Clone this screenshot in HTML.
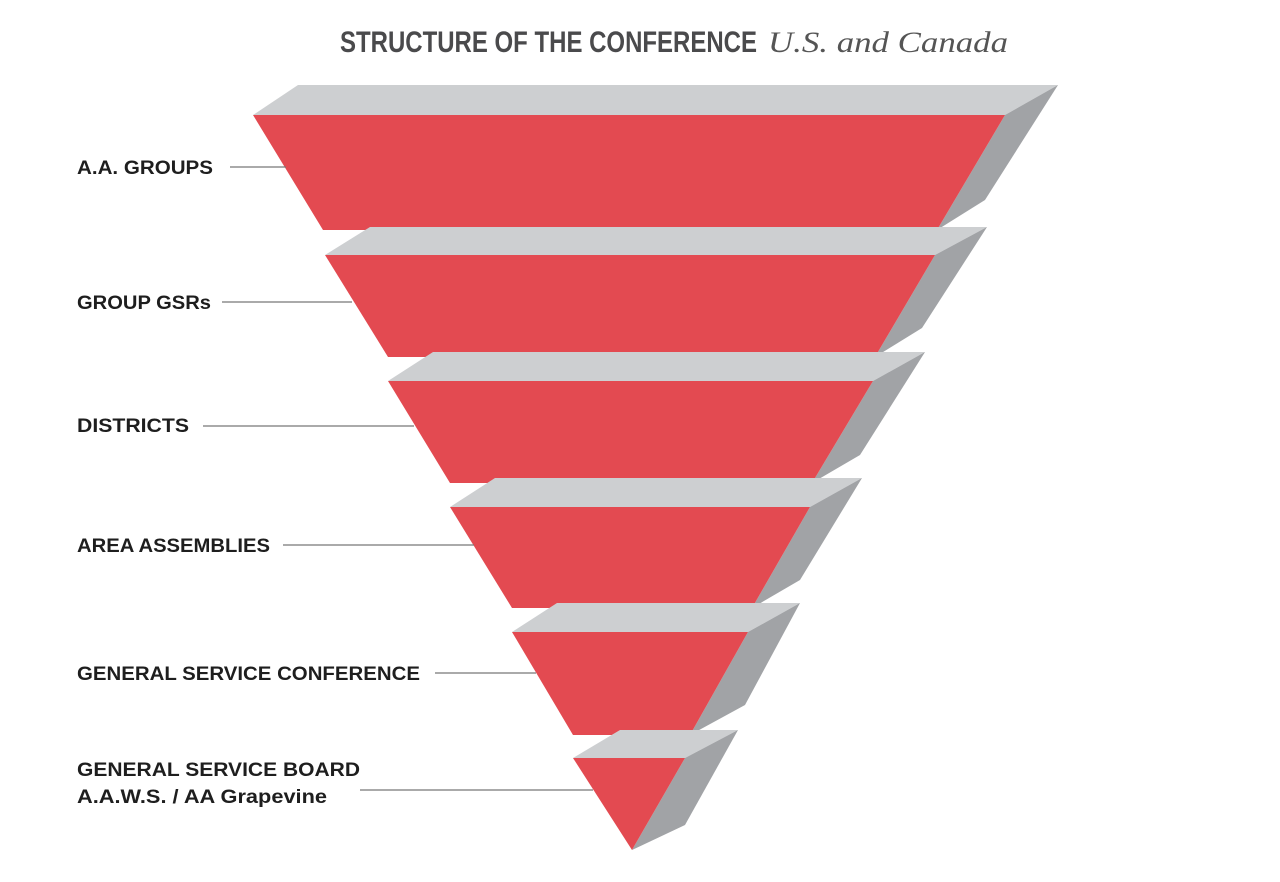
<!DOCTYPE html>
<html><head><meta charset="utf-8"><style>
html,body{margin:0;padding:0;background:#fff;}
svg{display:block;}
</style></head><body>
<svg width="1280" height="882" viewBox="0 0 1280 882" xmlns="http://www.w3.org/2000/svg">
<rect width="1280" height="882" fill="#fff"/>
<text x="340" y="52" font-family="Liberation Sans, sans-serif" font-weight="bold" font-size="30" fill="#4a4a4c" textLength="417" lengthAdjust="spacingAndGlyphs">STRUCTURE OF THE CONFERENCE</text>
<text x="768" y="52" font-family="Liberation Serif, serif" font-style="italic" font-size="30" fill="#555" textLength="240" lengthAdjust="spacingAndGlyphs">U.S. and Canada</text>

<g stroke="none">
<!-- tier 1 -->
<polygon points="253,115 298,85 1058,85 1005,115" fill="#cdcfd1"/>
<polygon points="1005,115 1058,85 985,200 937,230" fill="#a1a3a6"/>
<polygon points="253,115 1005,115 937,230 323,230" fill="#e34a51"/>
<!-- tier 2 -->
<polygon points="325,255 370,227 987,227 935,255" fill="#cdcfd1"/>
<polygon points="935,255 987,227 922,328 875,357" fill="#a1a3a6"/>
<polygon points="325,255 935,255 875,357 388,357" fill="#e34a51"/>
<!-- tier 3 -->
<polygon points="388,381 433,352 925,352 873,381" fill="#cdcfd1"/>
<polygon points="873,381 925,352 860,455 812,483" fill="#a1a3a6"/>
<polygon points="388,381 873,381 812,483 450,483" fill="#e34a51"/>
<!-- tier 4 -->
<polygon points="450,507 495,478 862,478 810,507" fill="#cdcfd1"/>
<polygon points="810,507 862,478 800,580 752,608" fill="#a1a3a6"/>
<polygon points="450,507 810,507 752,608 512,608" fill="#e34a51"/>
<!-- tier 5 -->
<polygon points="512,632 557,603 800,603 748,632" fill="#cdcfd1"/>
<polygon points="748,632 800,603 745,705 690,735" fill="#a1a3a6"/>
<polygon points="512,632 748,632 690,735 573,735" fill="#e34a51"/>
<!-- tier 6 -->
<polygon points="573,758 620,730 738,730 685,758" fill="#cdcfd1"/>
<polygon points="685,758 738,730 685,825 632,850" fill="#a1a3a6"/>
<polygon points="573,758 685,758 632,850" fill="#e34a51"/>
</g>

<g stroke="#777" stroke-width="1.3">
<line x1="230" y1="167" x2="286" y2="167"/>
<line x1="222" y1="302" x2="352" y2="302"/>
<line x1="203" y1="426" x2="414" y2="426"/>
<line x1="283" y1="545" x2="474" y2="545"/>
<line x1="435" y1="673" x2="536" y2="673"/>
<line x1="360" y1="790" x2="593" y2="790"/>
</g>

<g font-family="Liberation Sans, sans-serif" font-weight="bold" font-size="19.5" fill="#1e1e1e">
<text x="77" y="174" textLength="136" lengthAdjust="spacingAndGlyphs">A.A. GROUPS</text>
<text x="77" y="309" textLength="134" lengthAdjust="spacingAndGlyphs">GROUP GSRs</text>
<text x="77" y="432" textLength="112" lengthAdjust="spacingAndGlyphs">DISTRICTS</text>
<text x="77" y="552" textLength="193" lengthAdjust="spacingAndGlyphs">AREA ASSEMBLIES</text>
<text x="77" y="680" textLength="343" lengthAdjust="spacingAndGlyphs">GENERAL SERVICE CONFERENCE</text>
<text x="77" y="776" textLength="283" lengthAdjust="spacingAndGlyphs">GENERAL SERVICE BOARD</text>
<text x="77" y="803" textLength="250" lengthAdjust="spacingAndGlyphs">A.A.W.S. / AA Grapevine</text>
</g>
</svg>
</body></html>
